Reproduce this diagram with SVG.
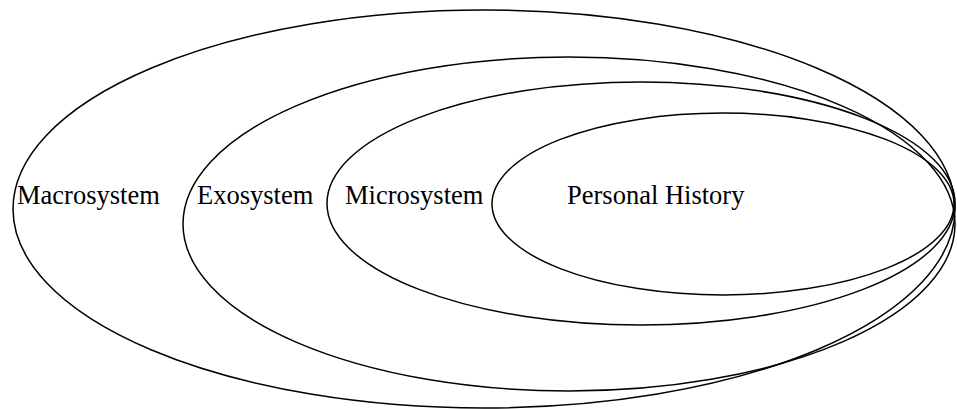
<svg xmlns="http://www.w3.org/2000/svg" width="957" height="409" viewBox="0 0 957 409">
<style>
.e{fill:none;stroke:#000;stroke-width:1.5}
.t{font-family:"Liberation Serif","Times New Roman",serif;font-size:26.5px;fill:#000}
</style>
<rect width="957" height="409" fill="#fff"/>
<g id="macrosystem"><ellipse class="e" cx="484" cy="209" rx="471" ry="199"/><text class="t" x="17" y="204">Macrosystem</text></g>
<g id="exosystem"><ellipse class="e" cx="569" cy="224" rx="386" ry="167"/><text class="t" x="197" y="204">Exosystem</text></g>
<g id="microsystem"><ellipse class="e" cx="641" cy="203.5" rx="314" ry="121.5"/><text class="t" x="345" y="204">Microsystem</text></g>
<g id="personal-history"><ellipse class="e" cx="723" cy="204" rx="231" ry="91"/><text class="t" x="567" y="204">Personal History</text></g>
<g id="connectors"/>
</svg>
